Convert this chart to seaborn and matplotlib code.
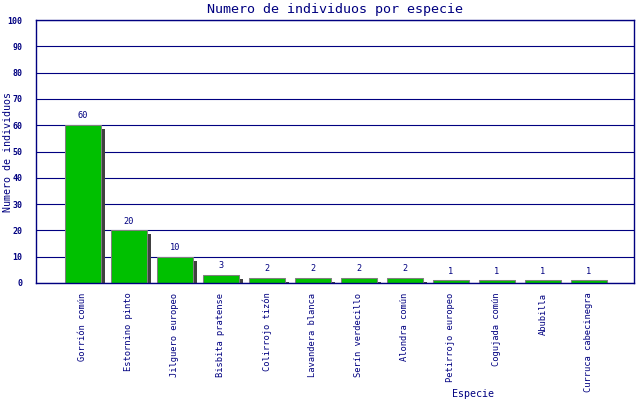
import numpy as np
import pandas as pd
import seaborn as sns
import matplotlib.pyplot as plt

# datos
especies = ["Gorrión común", "Estornino pinto", "Jilguero europeo", "Bisbita pratense",
            "Colirrojo tizón", "Lavandera blanca", "Serín verdecillo", "Alondra común",
            "Petirrojo europeo", "Cogujada común", "Abubilla", "Curruca cabecinegra"]
individuos = [60, 20, 10, 3, 2, 2, 2, 2, 1, 1, 1, 1]
yticks = list(range(0, 101, 10))

df = pd.DataFrame({"especie": especies, "individuos": individuos})

navy = "#000080"
verde = "#00c000"
sombra = "#404040"
mono = "DejaVu Sans Mono"

sns.set_style("white")
plt.rcParams["font.family"] = [mono, "DejaVu Sans"]

fig = plt.figure(figsize=(6.4, 4), dpi=100)
ax = fig.add_axes([36 / 640, 1 - 283 / 400, 598 / 640, 263 / 400])

# sombras (desplazadas 4px a la derecha y 4px hacia abajo)
dx = 4 / 46
dy = 4 / 2.63
pos = np.arange(len(especies))
ax.bar(pos + dx, np.array(individuos), bottom=-dy, width=0.78,
       color=sombra, linewidth=0, zorder=2)

sns.barplot(data=df, x="especie", y="individuos", color=verde, saturation=1,
            edgecolor="#808080", linewidth=0.75, width=0.78, ax=ax, zorder=3)

for i, v in enumerate(individuos):
    ax.text(i, v + 1.8, str(v), ha="center", va="bottom", fontsize=6.2,
            color=navy, family=mono)

ax.set_xlim(-1.02, 11.98)
ax.set_ylim(0, 100)
ax.set_yticks(yticks)
ax.set_yticklabels([str(t) for t in yticks], fontsize=6, fontweight="bold", color=navy)
ax.yaxis.grid(True, color=navy, linewidth=0.8, zorder=0)
ax.set_axisbelow(True)
ax.tick_params(axis="y", length=0, pad=10)
ax.tick_params(axis="x", length=0, pad=7)
ax.set_xticks(pos)
ax.set_xticklabels(especies, rotation=90, fontsize=6.3, color=navy, va="top")

for s in ax.spines.values():
    s.set_color(navy)
    s.set_linewidth(1.0)
    s.set_zorder(4)

ax.set_xlabel("")
ax.set_ylabel("")
fig.text(335 / 640, 1 - 9 / 400, "Numero de individuos por especie", ha="center",
         va="center", fontsize=9.6, color=navy)
fig.text(8 / 640, 1 - 152 / 400, "Numero de individuos", rotation=90, ha="center",
         va="center", fontsize=7.2, color=navy)
fig.text(473 / 640, 1 - 394 / 400, "Especie", ha="center", va="center",
         fontsize=7.2, color=navy)

fig.savefig("out.png", dpi=100)
